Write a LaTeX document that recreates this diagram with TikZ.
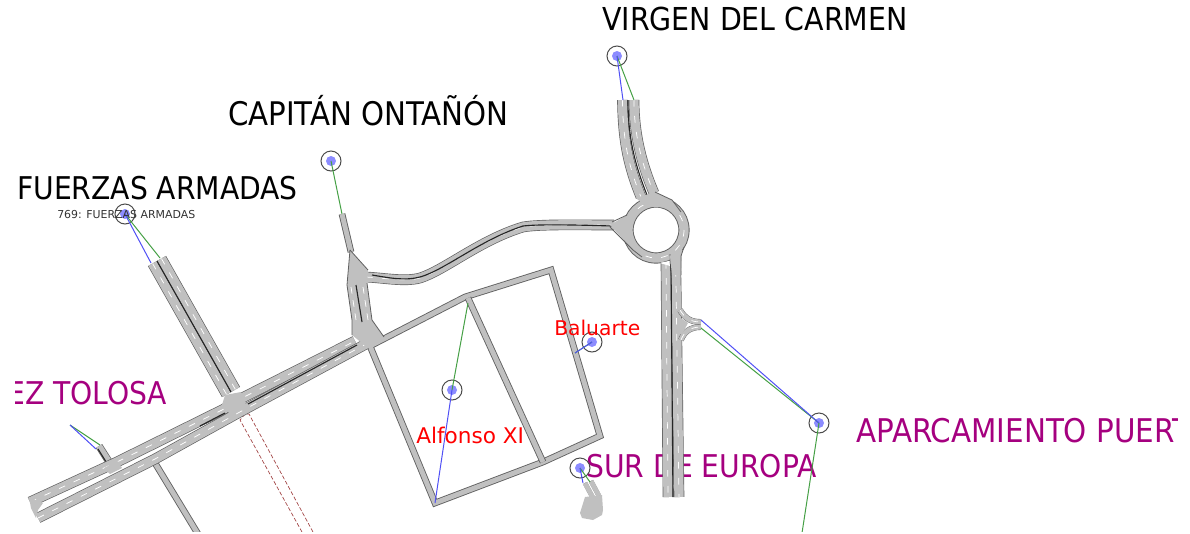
\documentclass[tikz,border=0pt]{standalone}
\usepackage{fontspec}
\setmainfont{DejaVu Sans Condensed}
\newfontfamily\widefont{DejaVu Sans}
\definecolor{roadgray}{HTML}{C0C0C0}
\definecolor{edgegray}{HTML}{606060}
\definecolor{labelpurple}{HTML}{A5007F}
\definecolor{linkgreen}{HTML}{45A045}
\definecolor{linkblue}{HTML}{5050F5}
\definecolor{railred}{HTML}{A04040}
\definecolor{dotblue}{HTML}{8C8CFF}
\tikzset{x=0.75pt,y=-0.75pt,
 lanecarriage/.style={line width=8pt*#1/10,draw=edgegray,line join=round,
   postaction={draw=roadgray,line width=7pt*#1/10},
   postaction={draw=white,dash pattern=on 5pt off 7pt,line width=0.55pt}},
 lanecarriage/.default=10,
 thinroad/.style={line width=5pt,draw=edgegray,line join=miter,
   postaction={draw=roadgray,line width=3.7pt}},
 stubroad/.style={line width=5.6pt,draw=edgegray,
   postaction={draw=roadgray,line width=4.6pt}},
 divider/.style={draw=black!85,line width=0.85pt},
 joint/.style={fill=roadgray,draw=none},
 jointedge/.style={draw=edgegray,line width=0.6pt},
 lanedash/.style={draw=white,dash pattern=on 5pt off 5pt,line width=0.55pt},
 linkg/.style={draw=linkgreen,line width=0.75pt},
 linkb/.style={draw=linkblue,line width=0.75pt},
 rail/.style={draw=railred,dashed,line width=0.5pt,dash pattern=on 3pt off 1.5pt},
 ring/.style={circle,draw=black!70,line width=0.75pt,minimum size=15pt,inner sep=0pt},
 dot/.style={circle,fill=dotblue,minimum size=7.5pt,inner sep=0pt},
 blacklabel/.style={anchor=base west,inner sep=0pt,text=black},
 purplelabel/.style={anchor=base west,inner sep=0pt,text=labelpurple},
 redlabel/.style={anchor=base west,inner sep=0pt,text=red},
}
\begin{document}
\begin{tikzpicture}
\useasboundingbox (0,0) rectangle (1190,533);
\begin{scope}
\clip (15,0) rectangle (1177,531);
% labels under the roads
\node[purplelabel,font=\fontsize{23.5pt}{23.5pt}\selectfont] (tolosa) at (7,404) {EZ TOLOSA};
\node[purplelabel,font=\fontsize{23.5pt}{23.5pt}\selectfont] (sur) at (586,477) {SUR DE EUROPA};
\node[purplelabel,font=\fontsize{24.5pt}{24.5pt}\selectfont] (aparc) at (856,442) {APARCAMIENTO PUERT};

% dashed rail
\draw[rail] (302,532) -- (240,420) -- (245,414) -- (249,414) -- (313,532);

% thin street block
\draw[thinroad] (370,346) -- (465,297) -- (551,270) -- (600,436) -- (543,462) -- (435,503) -- cycle;
\draw[thinroad] (468,298) -- (543,462);
\draw[thinroad] (155,463) -- (198,534);
\draw[thinroad] (342,214) -- (351,252);

% spur to the left-hand avenue
\draw[stubroad] (99,446) -- (113,468);
\draw[divider] (98,449) -- (108,465);

% main avenue
\draw[lanecarriage] (30,502) -- (117,462) -- (224,409) -- (244,397) -- (355,341);
\draw[lanecarriage] (38,518) -- (155,459) -- (238,413) -- (366,344);
\fill[joint] (29,497) -- (43,503) -- (38,510) -- (36,518) -- (31,508) -- cycle;
\fill[joint] (104,468) -- (118,461) -- (122,468) -- (110,474) -- cycle;
\draw[divider] (200,426) -- (225,413);
\draw[divider] (248,404) -- (357,345);

% Fuerzas Armadas avenue
\draw[lanecarriage] (152.6,263.5) -- (226.6,394.5);
\draw[lanecarriage] (161.4,258.5) -- (235.4,389.5);
\draw[divider] (157,261) -- (231,392);
\fill[joint] (222,405) -- (225,395) -- (241,392) -- (247,407) -- (230,414) -- cycle;

% curved road to the roundabout
\draw[lanecarriage] (366,277) .. controls (385,278) and (405,282) .. (420,278)
  .. controls (445,270) and (480,240) .. (523,227) .. controls (540,224) and (580,225) .. (614,225);
\draw[divider] (372,275) .. controls (390,278) and (405,281) .. (420,277)
  .. controls (445,270) and (480,240) .. (523,226) .. controls (540,224) and (580,225) .. (612,226);

% Capitan junction
\fill[joint] (350,250) -- (368,270) -- (367,283) -- (372,320) -- (384,337) -- (368,348) -- (352,335) -- (352,320) -- (347,285) -- cycle;
\draw[jointedge] (350,250) -- (368,270);
\draw[jointedge] (350,250) -- (347,285) -- (352,320) -- (352,335);
\draw[jointedge] (367,283) -- (372,320) -- (384,337);
\draw[divider] (356,285) -- (362,322);
\draw[lanedash] (351,287) -- (356,320);
\draw[lanedash] (363,287) -- (368,320);

% roundabout
\draw[line width=8.4pt,edgegray] (656,230) circle (28);
\draw[line width=7pt,roadgray] (656,230) circle (28);
\draw[white,dash pattern=on 5pt off 7pt,line width=0.55pt] (656,230) circle (28);

% north road
\draw[lanecarriage] (622.5,100) .. controls (623,140) and (628,165) .. (641,197);
\draw[lanecarriage] (634,100) .. controls (634,135) and (642,165) .. (654,193);
\draw[divider] (628,100) .. controls (628,138) and (635,165) .. (647,195);

% south road
\draw[lanecarriage] (666,262) -- (668,497);
\draw[lanecarriage] (675,254) -- (676,280) -- (679,497);
\draw[divider] (671,264) -- (673,497);

% funnels where the roads meet the ring
\fill[joint] (610,225) -- (627,215) -- (634,212) -- (631,230) -- (634,243) -- (642,255) -- (633,250) -- cycle;
\draw[jointedge] (610,227) -- (633,250) -- (642,257);
\draw[jointedge] (612,222) -- (627,215);
\fill[joint] (636,198) -- (655,192) -- (672,200) -- (681,212) -- (670,208) -- (645,206) -- cycle;
\draw[jointedge] (655,192) -- (672,200) -- (681,212);
\fill[joint] (670,256) -- (682,247) -- (681,275) -- (672,275) -- cycle;
\draw[jointedge] (684,247) -- (681,256) -- (681,275);
\fill[white] (660,263) -- (669,261) -- (670,266) -- cycle;

% east spur
\draw[lanecarriage=5.5] (680,310) .. controls (685,318) and (690,322) .. (701,322);
\draw[lanecarriage=5.5] (681,340) .. controls (684,332) and (690,327) .. (701,327);
\fill[joint] (678,316) -- (688,323) -- (682,334) -- (678,334) -- cycle;

% south-of-Europa stub
\draw[thinroad,line width=3.4pt] (585,483) -- (593,498);
\draw[thinroad,line width=3.4pt] (591,481) -- (599,496);
\fill[joint] (585,497) -- (602,495) -- (603,510) -- (602,515) -- (593,520) -- (582,518) -- (580,513) -- cycle;

% markers
\node[ring] (mv) at (617,56) {};  \node[dot] at (mv) {};
\node[ring] (mc) at (331,161) {}; \node[dot] at (mc) {};
\node[ring] (mf) at (125,214) {}; \node[dot] at (mf) {};
\node[ring] (ma) at (452,390) {}; \node[dot] at (ma) {};
\node[ring] (mb) at (592,342) {}; \node[dot] at (mb) {};
\node[ring] (ms) at (580,468) {}; \node[dot] at (ms) {};
\node[ring] (mp) at (819,423) {}; \node[dot] at (mp) {};

\coordinate (ev1) at (623,100); \coordinate (ev2) at (634,100);
\coordinate (ec) at (342,214);
\coordinate (ef1) at (151,263); \coordinate (ef2) at (160,258);
\coordinate (ea1) at (468,303); \coordinate (ea2) at (435,503);
\coordinate (eb) at (575,353);
\coordinate (es1) at (583,483); \coordinate (es2) at (590,482);
\coordinate (ep1) at (701,320); \coordinate (ep2) at (701,328); \coordinate (ep3) at (802,533);
\coordinate (t0) at (70,425); \coordinate (t1) at (96,449); \coordinate (t2) at (100,445);

\draw[linkg] (mv.center) -- (ev2);
\draw[linkb] (mv.center) -- (ev1);
\draw[linkg] (mc.center) -- (ec);
\draw[linkg] (mf.center) -- (ef2);
\draw[linkb] (mf.center) -- (ef1);
\draw[linkg] (ma.center) -- (ea1);
\draw[linkb] (ma.center) -- (ea2);
\draw[linkg] (mb.center) -- (eb);
\draw[linkb] (mb.center) -- (eb);
\draw[linkg] (ms.center) -- (es2);
\draw[linkb] (ms.center) -- (es1);
\draw[linkg] (mp.center) -- (ep2);
\draw[linkb] (mp.center) -- (ep1);
\draw[linkg] (mp.center) -- (ep3);
\draw[linkg] (t0) -- (t2);
\draw[linkb] (t0) -- (t1);

% labels above the map
\node[blacklabel,font=\fontsize{23.7pt}{23.7pt}\selectfont] (lv) at (602,30) {VIRGEN DEL CARMEN};
\node[blacklabel,font=\fontsize{24.4pt}{24.4pt}\selectfont] (lc) at (228,125) {CAPITÁN ONTAÑÓN};
\node[blacklabel,font=\fontsize{23.5pt}{23.5pt}\selectfont] (lf) at (17,199) {FUERZAS ARMADAS};
\node[blacklabel,font=\widefont\fontsize{8.2pt}{8.2pt}\selectfont,text=black!80] (ln) at (57,218) {769: FUERZAS ARMADAS};
\node[redlabel,font=\widefont\fontsize{15.2pt}{15.2pt}\selectfont] (lb) at (554,335) {Baluarte};
\node[redlabel,font=\widefont\fontsize{16.2pt}{16.2pt}\selectfont] (la) at (416,443) {Alfonso XI};
\end{scope}
\end{tikzpicture}
\end{document}
